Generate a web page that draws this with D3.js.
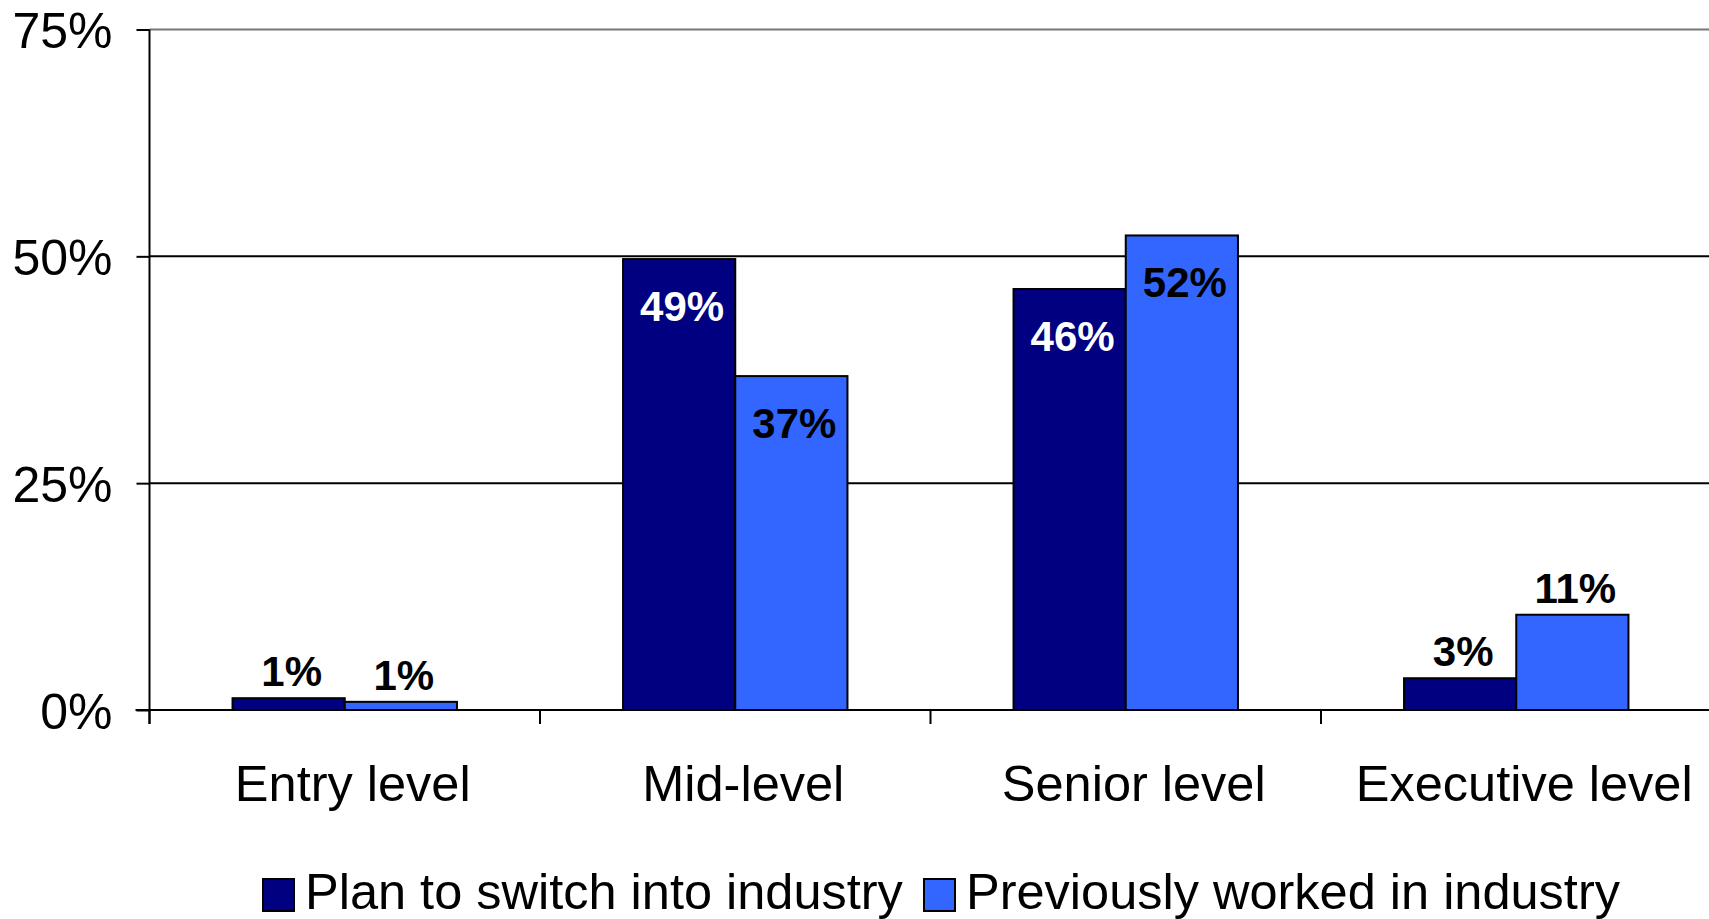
<!DOCTYPE html>
<html>
<head>
<meta charset="utf-8">
<script src="https://cdn.jsdelivr.net/npm/d3@7"></script>
<style>
  html, body { margin: 0; padding: 0; background: #fff; }
  svg { display: block; font-family: "Liberation Sans", Arial, sans-serif; }
</style>
</head>
<body>
<svg id="chart" width="1709" height="919"></svg>
<script>
const categories = ["Entry level", "Mid-level", "Senior level", "Executive level"];
const seriesNames = ["Plan to switch into industry", "Previously worked in industry"];
const planValues = [1.3, 49.7, 46.4, 3.5];
const prevValues = [0.9, 36.8, 52.3, 10.5];
const planLabels = ["1%", "49%", "46%", "3%"];
const prevLabels = ["1%", "37%", "52%", "11%"];
const yTicks = [0, 25, 50, 75];
const colors = ["#000080", "#3366FF"];

const svg = d3.select("#chart");
const plotLeft = 149.5, plotRight = 1711.5, plotTop = 29.5, plotBottom = 710;

const x = d3.scaleBand().domain(categories).range([plotLeft, plotRight]).padding(0);
const xInner = d3.scaleBand().domain([0, 1]).range([0, x.bandwidth()]).paddingInner(0).paddingOuter(0.74);
const y = d3.scaleLinear().domain([0, 75]).range([plotBottom, plotTop]);

// gridlines
svg.append("g").selectAll("line").data(yTicks.filter(d => d > 0)).join("line")
  .attr("x1", plotLeft).attr("x2", 1709)
  .attr("y1", d => y(d)).attr("y2", d => y(d))
  .attr("stroke", d => d === 75 ? "#777" : "#000")
  .attr("stroke-width", 2);

// y axis
const yAxis = d3.axisLeft(y).tickValues(yTicks).tickFormat(d => d + "%").tickSize(13).tickPadding(24);
const gy = svg.append("g").attr("transform", `translate(${plotLeft},0)`).call(yAxis);
gy.select(".domain").attr("stroke", "#000").attr("stroke-width", 2).attr("d", `M0,${plotTop}V${plotBottom + 14}`);
gy.selectAll(".tick line").attr("stroke", "#000").attr("stroke-width", 2);
gy.selectAll(".tick text").attr("font-size", 50).attr("fill", "#000")
  .attr("font-family", "Liberation Sans, Arial, sans-serif").attr("dy", "0.36em");

// bars
const series = [planValues, prevValues];
const labels = [planLabels, prevLabels];
const groups = svg.append("g").selectAll("g").data(categories).join("g")
  .attr("transform", d => `translate(${x(d)},0)`);

groups.each(function(cat, ci) {
  const g = d3.select(this);
  [0, 1].forEach(si => {
    const v = series[si][ci];
    g.append("rect")
      .attr("x", xInner(si))
      .attr("y", y(v))
      .attr("width", xInner.bandwidth())
      .attr("height", y(0) - y(v))
      .attr("fill", colors[si])
      .attr("stroke", "#000")
      .attr("stroke-width", 2);
  });
});

// x axis
const gx = svg.append("g");
gx.append("line").attr("x1", plotLeft - 14).attr("x2", 1709).attr("y1", y(0)).attr("y2", y(0))
  .attr("stroke", "#000").attr("stroke-width", 2);
gx.selectAll(".xt").data(categories).join("line").attr("class", "xt")
  .attr("x1", d => x(d)).attr("x2", d => x(d))
  .attr("y1", y(0)).attr("y2", y(0) + 14)
  .attr("stroke", "#000").attr("stroke-width", 2);
gx.selectAll(".xl").data(categories).join("text").attr("class", "xl")
  .attr("x", d => x(d) + x.bandwidth() / 2 + 8)
  .attr("y", 801)
  .attr("text-anchor", "middle")
  .attr("font-size", 50.5)
  .attr("fill", "#000")
  .text(d => d);

// value labels
groups.each(function(cat, ci) {
  const g = d3.select(this);
  [0, 1].forEach(si => {
    const v = series[si][ci];
    const inside = v > 20;
    g.append("text")
      .attr("x", xInner(si) + xInner.bandwidth() / 2 + 3)
      .attr("y", inside ? y(v) + 62 : y(v) - 12)
      .attr("text-anchor", "middle")
      .attr("font-size", 42)
      .attr("font-weight", "bold")
      .attr("fill", inside && si === 0 ? "#fff" : "#000")
      .text(labels[si][ci]);
  });
});

// legend
const legendX = [263, 924];
const leg = svg.append("g").selectAll("g").data(seriesNames).join("g")
  .attr("transform", (d, i) => `translate(${legendX[i]},0)`);
leg.append("rect").attr("x", 0).attr("y", 879).attr("width", 31).attr("height", 32)
  .attr("fill", (d, i) => colors[i]).attr("stroke", "#000").attr("stroke-width", 2);
leg.append("text").attr("x", 42).attr("y", 909).attr("font-size", 50.5).attr("fill", "#000").text(d => d);
</script>
</body>
</html>
